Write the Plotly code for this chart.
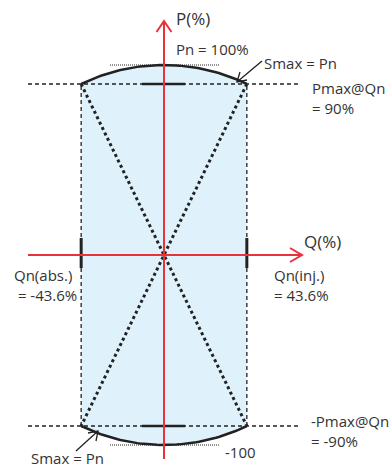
import numpy as np
import plotly.graph_objects as go

# values shown on the diagram (%)
q_inj = 43.6
q_abs = -43.6
p_max = 90
p_min = -90
p_n = 100
s_max = 100

labels_top = ["P(%)", "Pn = 100%", "Smax = Pn", "Pmax@Qn<br>= 90%"]
labels_mid = ["Q(%)", "Qn(abs.)<br> = -43.6%", "Qn(inj.)<br>= 43.6%"]
labels_bot = ["-Pmax@Qn<br>= -90%", "Smax = Pn", "-100"]

# pixel <-> data helpers (layout only)
W, H = 390, 467
CX, CY, S = 164, 255, 1.9


def qx(px):
    return (px - CX) / S


def py(py_):
    return (CY - py_) / S


RED = "#e8323c"
INK = "#222222"
TXT = "#333333"
FILL = "#dff2fb"

# capability arc: |S| = Smax between -Qn and +Qn
q_arc = np.linspace(q_abs, q_inj, 60)
p_arc = np.sqrt(s_max ** 2 - q_arc ** 2)

fig = go.Figure()

# shaded region
fig.add_trace(go.Scatter(
    x=np.concatenate([q_arc, q_arc[::-1]]),
    y=np.concatenate([p_arc, -p_arc[::-1]]),
    fill="toself", fillcolor=FILL, mode="lines",
    line=dict(width=0), hoverinfo="skip"))

dash = "4px,3px"
# horizontal dashed at +-Pmax
for p in [p_max, p_min]:
    fig.add_trace(go.Scatter(x=[qx(28), qx(300)], y=[p, p], mode="lines",
                             line=dict(color=INK, width=1.3, dash=dash)))
# vertical dashed at +-Qn
for q in [q_abs, q_inj]:
    fig.add_trace(go.Scatter(x=[q, q], y=[p_min, p_max], mode="lines",
                             line=dict(color=INK, width=1.3, dash=dash)))
# diagonals
fig.add_trace(go.Scatter(x=[q_abs, q_inj], y=[p_max, p_min], mode="lines",
                         line=dict(color=INK, width=3, dash="dot")))
fig.add_trace(go.Scatter(x=[q_inj, q_abs], y=[p_max, p_min], mode="lines",
                         line=dict(color=INK, width=3, dash="dot")))
# thin dotted at +-Pn
for p in [p_n, -p_n]:
    fig.add_trace(go.Scatter(x=[qx(110), qx(219)], y=[p, p], mode="lines",
                             line=dict(color=INK, width=1, dash="1px,1px")))
# arcs
fig.add_trace(go.Scatter(x=q_arc, y=p_arc, mode="lines",
                         line=dict(color=INK, width=2.5)))
fig.add_trace(go.Scatter(x=q_arc, y=-p_arc, mode="lines",
                         line=dict(color=INK, width=2.5)))
# short ticks
for p in [p_max, p_min]:
    fig.add_trace(go.Scatter(x=[qx(142), qx(185)], y=[p, p], mode="lines",
                             line=dict(color=INK, width=2.5)))
for q in [q_abs, q_inj]:
    fig.add_trace(go.Scatter(x=[q, q], y=[py(238), py(268)], mode="lines",
                             line=dict(color=INK, width=3)))

# red axes with open arrowheads
fig.add_trace(go.Scatter(x=[qx(28), qx(302)], y=[0, 0], mode="lines",
                         line=dict(color=RED, width=2)))
fig.add_trace(go.Scatter(x=[qx(290), qx(302), qx(290)],
                         y=[py(248), py(255), py(262)], mode="lines",
                         line=dict(color=RED, width=2)))
fig.add_trace(go.Scatter(x=[0, 0], y=[py(459), py(21)], mode="lines",
                         line=dict(color=RED, width=2)))
fig.add_trace(go.Scatter(x=[qx(156.5), qx(164), qx(171.5)],
                         y=[py(32), py(21), py(32)], mode="lines",
                         line=dict(color=RED, width=2)))

# Smax arrows
fig.add_trace(go.Scatter(x=[qx(262), qx(237)], y=[py(61), py(82)], mode="lines",
                         line=dict(color=INK, width=1.3)))
fig.add_trace(go.Scatter(x=[qx(247), qx(237), qx(240)],
                         y=[py(80), py(82), py(72)], mode="lines",
                         line=dict(color=INK, width=1.3)))
fig.add_trace(go.Scatter(x=[qx(76), qx(98)], y=[py(451), py(431)], mode="lines",
                         line=dict(color=INK, width=1.3)))
fig.add_trace(go.Scatter(x=[qx(88), qx(98), qx(96)],
                         y=[py(433), py(431), py(441)], mode="lines",
                         line=dict(color=INK, width=1.3)))


def note(text, px, py_, size=15):
    fig.add_annotation(x=qx(px), y=py(py_), text=text, showarrow=False,
                       xanchor="left", yanchor="middle", align="left",
                       font=dict(size=size, color=TXT, family="Open Sans"))


note(labels_top[0], 174, 18, 17)
note(labels_top[1], 174, 49)
note(labels_top[2], 262, 63)
note(labels_top[3], 310, 97.5)

note(labels_mid[0], 302, 241, 17)
note(labels_mid[1], 12, 284.5)
note(labels_mid[2], 272, 284.5)

note(labels_bot[0], 309, 431)
note(labels_bot[1], 29, 458)
note(labels_bot[2], 223, 452)

fig.update_layout(
    width=W, height=H, showlegend=False,
    margin=dict(l=0, r=0, t=0, b=0),
    paper_bgcolor="white", plot_bgcolor="white",
    xaxis=dict(range=[qx(0), qx(W)], visible=False, fixedrange=True),
    yaxis=dict(range=[py(H), py(0)], visible=False, fixedrange=True),
)

fig.write_html("out.html", config={"displayModeBar": False},
               post_script="document.body.style.margin='0';")
